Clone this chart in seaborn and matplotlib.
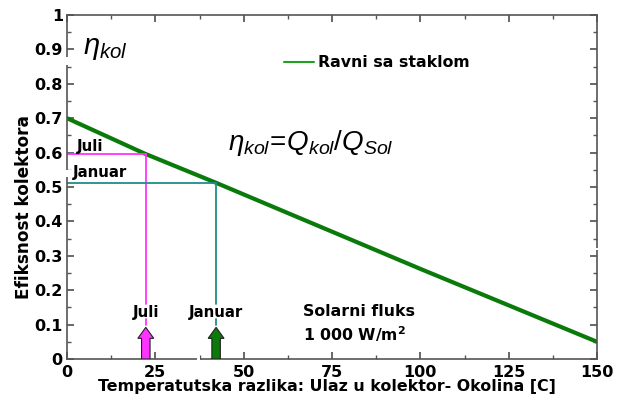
import matplotlib
matplotlib.use('Agg')
import matplotlib.pyplot as plt
from matplotlib.patches import Rectangle
from matplotlib.ticker import MultipleLocator
import pandas as pd
import seaborn as sns

# Podaci ocitani sa slike
temp_razlika = [0, 22, 42, 100, 150]
efikasnost = [0.70, 0.597, 0.513, 0.262, 0.05]

mjeseci = ['Juli', 'Januar']
mjesec_x = [22.3, 42.2]
mjesec_eta = [0.596, 0.512]
linija_boje = ['#ff33ff', '#1f8c8c']
strelica_boje = ['#ff33ff', '#0a7a0a']

x_ticks = [0, 25, 50, 75, 100, 125, 150]
y_ticks = [0, 0.1, 0.2, 0.3, 0.4, 0.5, 0.6, 0.7, 0.8, 0.9, 1]
y_tick_labels = ['0', '0.1', '0.2', '0.3', '0.4', '0.5', '0.6', '0.7', '0.8', '0.9', '1']

df = pd.DataFrame({'dT': temp_razlika, 'eta': efikasnost})

sns.set_theme(style='ticks')
plt.rcParams['font.family'] = ['DejaVu Sans']
plt.rcParams['text.color'] = 'black'
plt.rcParams['axes.labelcolor'] = 'black'
plt.rcParams['xtick.labelcolor'] = 'black'
plt.rcParams['ytick.labelcolor'] = 'black'
plt.rcParams['mathtext.fontset'] = 'custom'
plt.rcParams['mathtext.it'] = 'Liberation Sans:italic'
plt.rcParams['mathtext.rm'] = 'Liberation Sans'
plt.rcParams['mathtext.bf'] = 'DejaVu Sans:bold'

fig = plt.figure(figsize=(6.19, 4.04), dpi=100)
ax = fig.add_axes([67 / 619, 45 / 404, 530 / 619, 344 / 404])

sns.lineplot(data=df, x='dT', y='eta', ax=ax, color='#0a7a0a', linewidth=3, legend=False)

# Juli / Januar linije
for naziv, xv, ev, c in zip(mjeseci, mjesec_x, mjesec_eta, linija_boje):
    ax.plot([0, xv], [ev, ev], color=c, linewidth=1.3)
    ax.plot([xv, xv], [ev, 0.16], color=c, linewidth=1.3)
    ax.plot([xv, xv], [0.115, 0.10], color=c, linewidth=1.3)

ax.text(2.8, 0.604, 'Juli', fontsize=10.8, fontweight='bold', va='baseline')
ax.text(1.6, 0.528, 'Januar', fontsize=10.8, fontweight='bold', va='baseline')
for naziv, xv, c in zip(mjeseci, mjesec_x, strelica_boje):
    ax.text(xv, 0.134, naziv, fontsize=10.8, fontweight='bold', ha='center', va='center')
    ax.arrow(xv, 0.0, 0, 0.092, width=2.4, head_width=4.5, head_length=0.032,
             length_includes_head=True, facecolor=c, edgecolor='#222222', linewidth=0.8,
             zorder=4)

# legenda
ax.plot([61.4, 69.9], [0.863, 0.863], color='#22a022', linewidth=1.5)
ax.text(71.0, 0.863, 'Ravni sa staklom', fontsize=11.3, fontweight='bold', va='center')

ax.text(4.5, 0.904, r'$\eta_{kol}$', fontsize=21, va='center')
ax.text(45.6, 0.628, r'$\eta_{kol}\!=\!Q_{kol}/Q_{Sol}$', fontsize=20, va='center')
ax.text(66.8, 0.137, 'Solarni fluks', fontsize=11.3, fontweight='bold', va='center')
ax.text(66.8, 0.072, r'1 000 W/m$^\mathbf{2}$', fontsize=11.3, fontweight='bold', va='center')

ax.set_xlim(0, 150)
ax.set_ylim(0, 1)
ax.set_xticks(x_ticks)
ax.set_yticks(y_ticks)
ax.set_yticklabels(y_tick_labels)
ax.xaxis.set_minor_locator(MultipleLocator(12.5))
ax.yaxis.set_minor_locator(MultipleLocator(0.05))
ax.tick_params(which='both', direction='in', top=True, right=True, color='#555555',
               labelsize=11.5)
ax.tick_params(which='major', length=5)
ax.tick_params(which='minor', length=3)
ax.tick_params(axis='x', pad=4)
ax.tick_params(axis='y', pad=3)
for lab in ax.get_xticklabels() + ax.get_yticklabels():
    lab.set_fontweight('bold')
for s in ax.spines.values():
    s.set_color('#555555')
    s.set_linewidth(1.2)

# bijeli prekidi na osama kao na originalu
for r in [(-1.5, 0.855, 3, 0.023), (-1.5, 0.53, 3, 0.018), (36.8, -0.01, 0.9, 0.02),
          (148.5, 0.318, 3, 0.006)]:
    ax.add_patch(Rectangle(r[:2], r[2], r[3], facecolor='white', edgecolor='none',
                           clip_on=False, zorder=5))

ax.set_xlabel('Temperatutska razlika: Ulaz u kolektor- Okolina [C]', fontsize=11.4,
              fontweight='bold')
ax.xaxis.set_label_coords(0.49, -0.058)
ax.xaxis.label.set_va('top')
ax.set_ylabel('Efiksnost kolektora', fontsize=12.2, fontweight='bold')
ax.yaxis.set_label_coords(-0.064, 0.442)

fig.savefig('out.png', dpi=100)
